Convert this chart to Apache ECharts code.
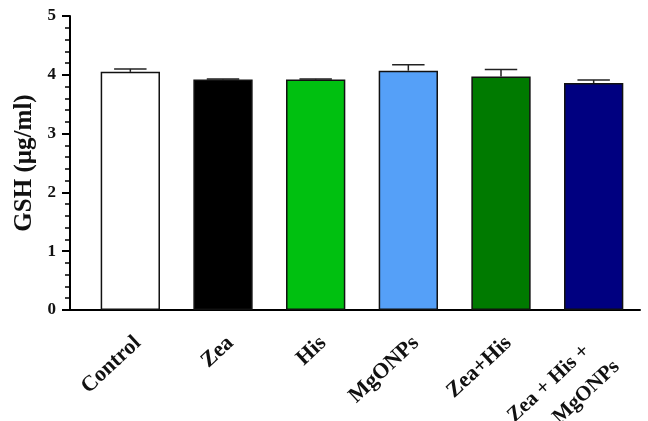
<!DOCTYPE html>
<html><head><meta charset="utf-8">
<script src="https://cdn.jsdelivr.net/npm/echarts@6/dist/echarts.min.js"></script>
<style>html,body{margin:0;padding:0;background:#fff}#c{width:648px;height:421px}</style>
</head><body><div id="c"></div>
<script>
var categories = ['Control','Zea','His','MgONPs','Zea+His','Zea + His +\nMgONPs'];
var means = [4.05, 3.92, 3.92, 4.07, 3.97, 3.86];
var errors = [0.05, 0.01, 0.01, 0.10, 0.12, 0.05];
var colors = ['#ffffff','#000000','#00c010','#55a0f8','#007a00','#000080'];
var yTicks = [0,1,2,3,4,5];

var chart = echarts.init(document.getElementById('c'));
var font = 'Liberation Serif';
var gridLeft = 84, gridBottom = 111, yOffset = 14;
chart.setOption({
  animation:false,
  grid:{left:gridLeft,right:8,top:16,bottom:gridBottom,containLabel:false,outerBoundsMode:'none'},
  xAxis:{type:'category',data:categories,
    axisLine:{lineStyle:{color:'#000',width:2}},
    axisTick:{alignWithLabel:true,length:6,lineStyle:{color:'#000',width:2}},
    axisLabel:{rotate:43,color:'#111',fontFamily:font,fontWeight:'bold',fontSize:22,interval:0,margin:22,
      align:'right',verticalAlign:'top',
      formatter:function(v){
        if(v.indexOf('\n')>=0){var p=v.split('\n');return '{a|'+p[0]+'}\n{b|'+p[1]+'}';}
        return v;
      },
      rich:{
        a:{fontFamily:font,fontWeight:'bold',fontSize:21,color:'#111',lineHeight:14,align:'right',padding:[0,16,0,0]},
        b:{fontFamily:font,fontWeight:'bold',fontSize:21,color:'#111',lineHeight:50,align:'right',padding:[0,5,0,0]}
      }
    }
  },
  yAxis:{type:'value',min:yTicks[0],max:yTicks[yTicks.length-1],interval:1,offset:yOffset,
    name:'GSH (µg/ml)',nameLocation:'middle',nameGap:33,
    nameTextStyle:{color:'#111',fontFamily:font,fontWeight:'bold',fontSize:25},
    axisLine:{show:true,lineStyle:{color:'#000',width:2}},
    axisTick:{show:true,length:8,lineStyle:{color:'#000',width:2}},
    minorTick:{show:true,splitNumber:5,length:5,lineStyle:{color:'#000',width:1.5}},
    splitLine:{show:false},
    axisLabel:{color:'#111',fontFamily:font,fontWeight:'bold',fontSize:17,margin:14}
  },
  graphic:[{type:'line',shape:{x1:gridLeft-yOffset-1,y1:421-gridBottom,x2:gridLeft,y2:421-gridBottom},style:{stroke:'#000',lineWidth:2}}],
  series:[
    {type:'bar',barWidth:'64%',
     data:means.map(function(v,i){return {value:v,itemStyle:{color:colors[i],borderColor:'#111',borderWidth:1.5}};})},
    {type:'custom',z:1,
     data:means.map(function(v,i){return [i,v,v+errors[i]];}),
     renderItem:function(params,api){
       var base=api.coord([api.value(0),api.value(1)]);
       var top=api.coord([api.value(0),api.value(2)]);
       var hw=api.size([1,0])[0]*0.175;
       return {type:'group',children:[
         {type:'line',shape:{x1:base[0],y1:base[1],x2:top[0],y2:top[1]},style:{stroke:'#222',lineWidth:1.5}},
         {type:'line',shape:{x1:top[0]-hw,y1:top[1],x2:top[0]+hw,y2:top[1]},style:{stroke:'#222',lineWidth:1.5}}
       ]};
     }}
  ]
});
</script></body></html>
